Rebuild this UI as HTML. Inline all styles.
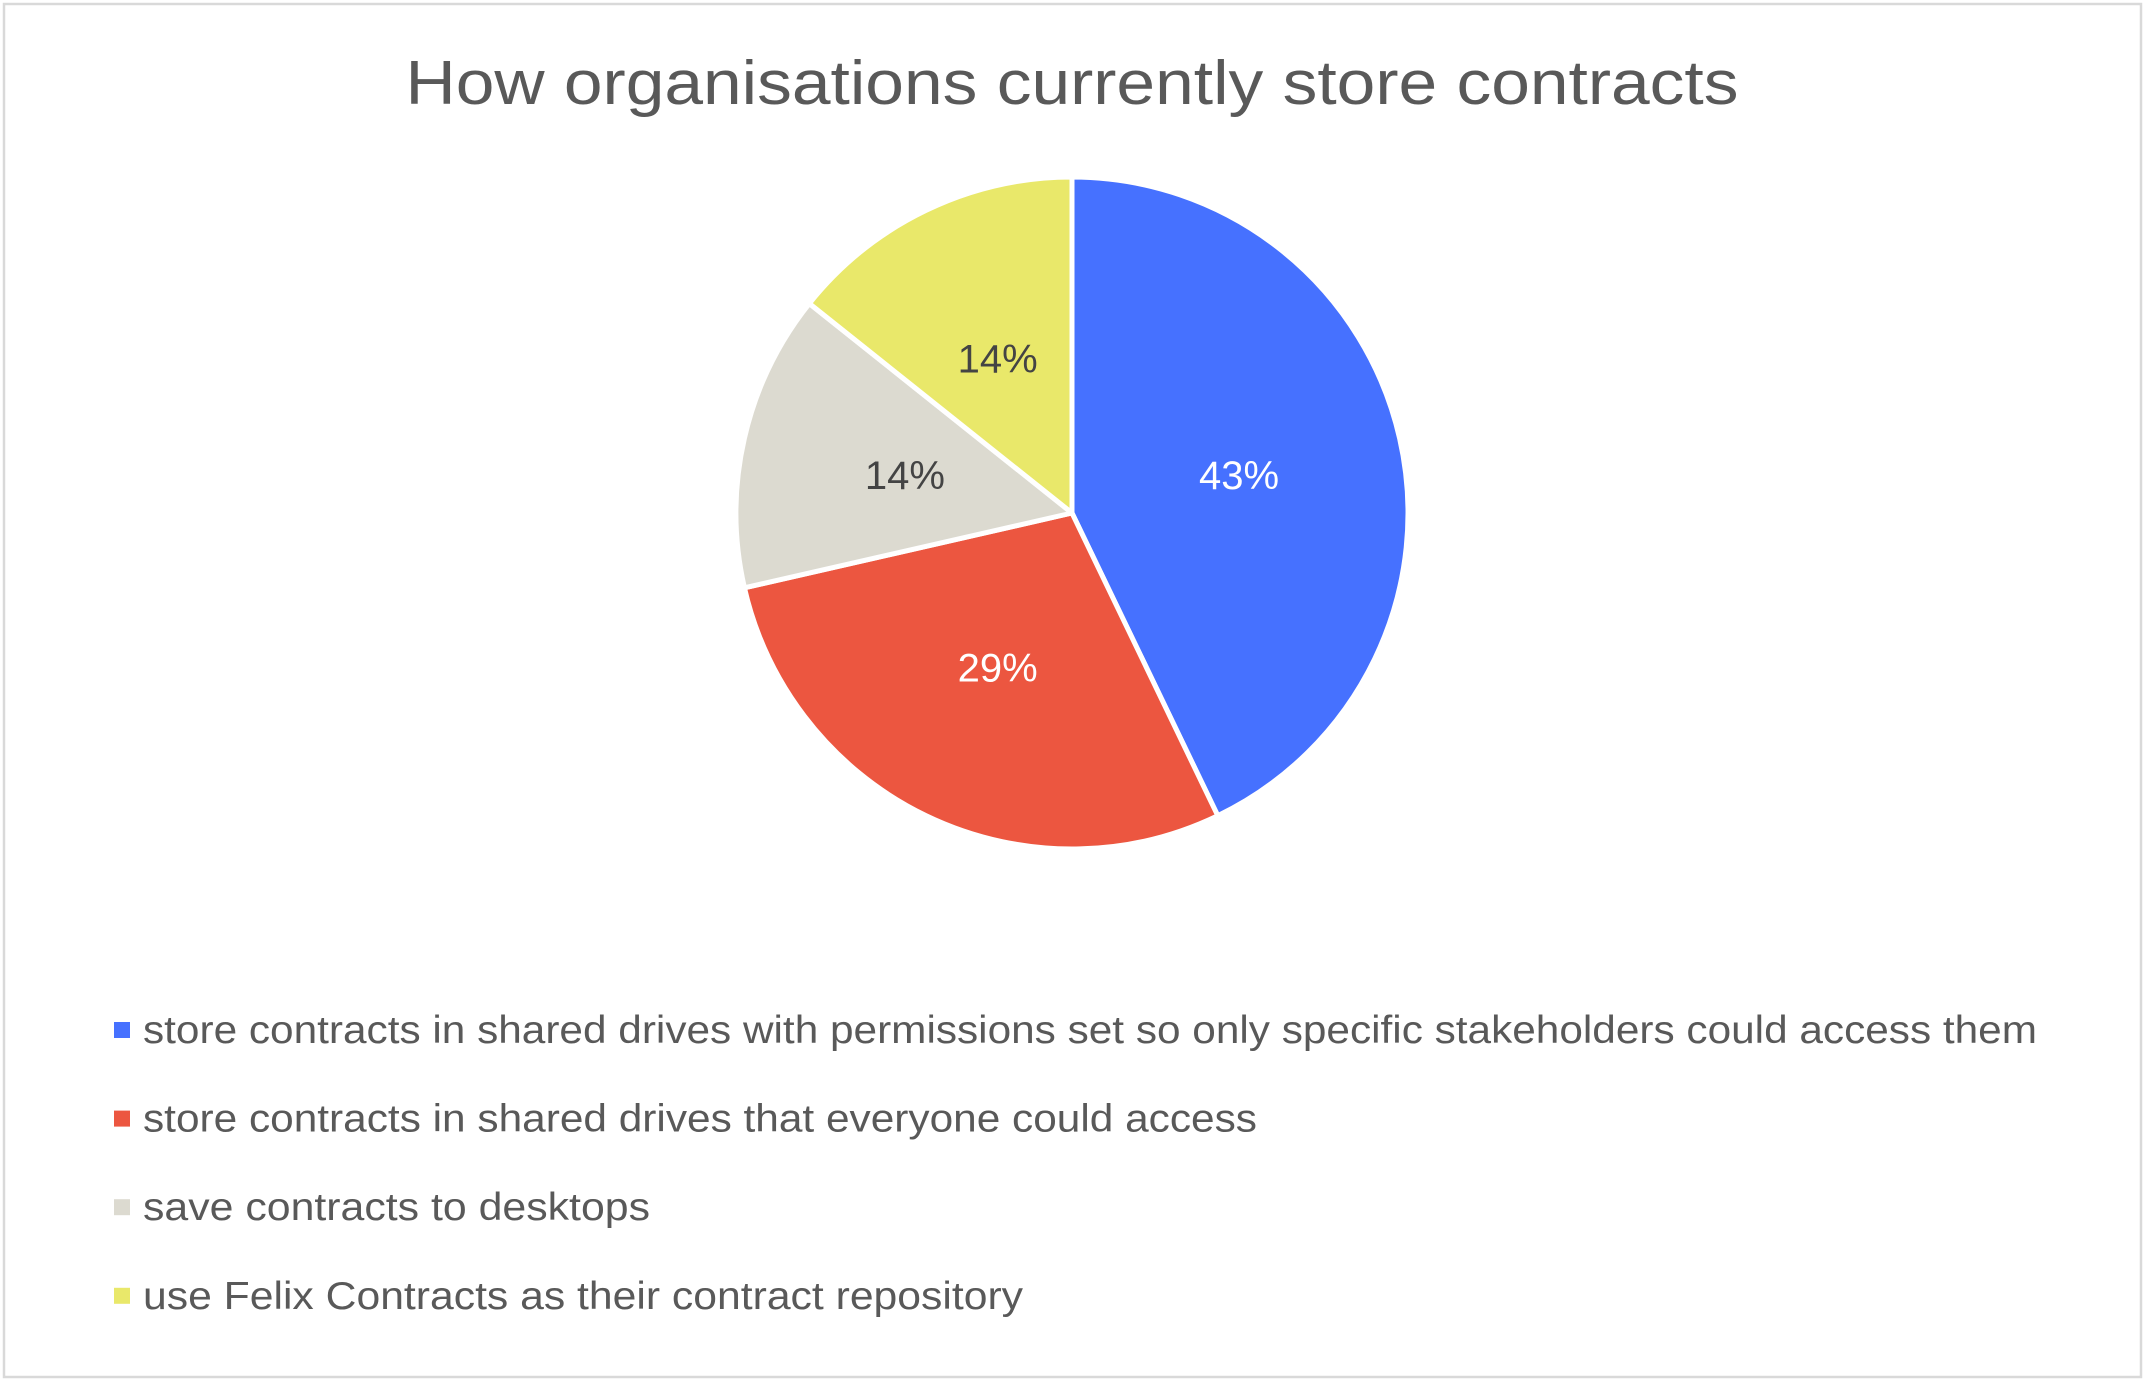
<!DOCTYPE html>
<html><head><meta charset="utf-8">
<style>
html,body{margin:0;padding:0;background:#fff;}
body{width:2145px;height:1384px;overflow:hidden;font-family:"Liberation Sans",sans-serif;}
svg text{font-family:"Liberation Sans",sans-serif;}
</style></head>
<body>
<svg id="chart" width="2145" height="1384" viewBox="0 0 2145 1384" xmlns="http://www.w3.org/2000/svg">
  <rect x="4" y="4" width="2137" height="1373" fill="#fff" stroke="#d9d9d9" stroke-width="2.5"/>
  <text x="1072" y="104" text-anchor="middle" font-size="62" fill="#595959" textLength="1333" lengthAdjust="spacingAndGlyphs">How organisations currently store contracts</text>
  <g id="slices"></g>
  <g id="labels"></g>
  <g id="legend"></g>
</svg>
<script>
const categories = [
  "store contracts in shared drives with permissions set so only specific stakeholders could access them",
  "store contracts in shared drives that everyone could access",
  "save contracts to desktops",
  "use Felix Contracts as their contract repository"
];
const values = [3, 2, 1, 1];
const colors = ["#4671ff", "#ec5640", "#dcdad0", "#e9e86a"];
const labelColors = ["#ffffff", "#ffffff", "#444444", "#444444"];
const legendWidths = [1894, 1114, 507, 880];

const NS = "http://www.w3.org/2000/svg";
const cx = 1072, cy = 513, r = 336;
const total = values.reduce((a, b) => a + b, 0);
const slicesG = document.getElementById("slices");
const labelsG = document.getElementById("labels");
const legendG = document.getElementById("legend");
function pt(angle, rad) { return [cx + rad * Math.sin(angle), cy - rad * Math.cos(angle)]; }
let start = 0;
values.forEach((v, i) => {
  const sweep = v / total * Math.PI * 2;
  const end = start + sweep;
  const [x1, y1] = pt(start, r), [x2, y2] = pt(end, r);
  const large = sweep > Math.PI ? 1 : 0;
  const p = document.createElementNS(NS, "path");
  p.setAttribute("d", `M${cx},${cy} L${x1},${y1} A${r},${r} 0 ${large} 1 ${x2},${y2} Z`);
  p.setAttribute("fill", colors[i]);
  p.setAttribute("stroke", "#fff");
  p.setAttribute("stroke-width", "5");
  p.setAttribute("stroke-linejoin", "round");
  
  
  slicesG.appendChild(p);
  const mid = start + sweep / 2;
  const [lx, ly] = pt(mid, r * 0.51);
  const t = document.createElementNS(NS, "text");
  t.setAttribute("x", lx);
  t.setAttribute("y", ly + 14);
  t.setAttribute("text-anchor", "middle");
  t.setAttribute("font-size", "40");
  t.setAttribute("fill", labelColors[i]);
  t.textContent = Math.round(v / total * 100) + "%";
  
  
  labelsG.appendChild(t);
  start = end;
});
categories.forEach((c, i) => {
  const y = 1043 + i * 88.6;
  const sq = document.createElementNS(NS, "rect");
  sq.setAttribute("x", 114);
  sq.setAttribute("y", y - 21);
  sq.setAttribute("width", 16);
  sq.setAttribute("height", 16);
  sq.setAttribute("fill", colors[i]);
  
  
  legendG.appendChild(sq);
  const t = document.createElementNS(NS, "text");
  t.setAttribute("x", 143);
  t.setAttribute("y", y);
  t.setAttribute("font-size", "39");
  t.setAttribute("fill", "#595959");
  t.setAttribute("textLength", legendWidths[i]);
  t.setAttribute("lengthAdjust", "spacingAndGlyphs");
  t.textContent = c;
  
  
  legendG.appendChild(t);
});
</script>
</body></html>
